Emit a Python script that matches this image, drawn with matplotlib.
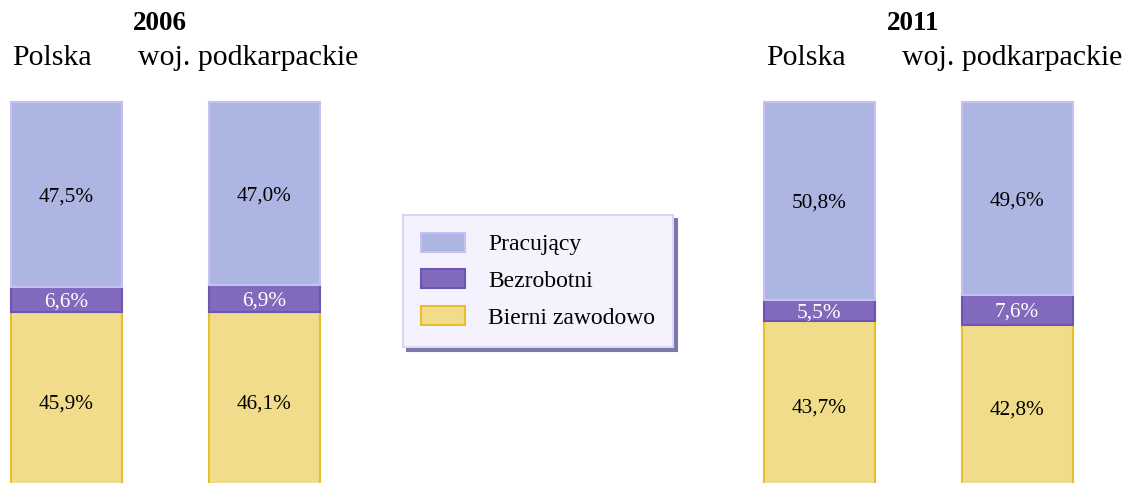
import numpy as np
import matplotlib
matplotlib.use("Agg")
import matplotlib.pyplot as plt
from matplotlib.patches import Patch

plt.rcParams['font.family'] = ['Liberation Serif', 'DejaVu Serif']

lata = ["2006", "2011"]
regiony = ["Polska", "woj. podkarpackie"]
kategorie = ["Pracujący", "Bezrobotni", "Bierni zawodowo"]

# kolejnosc slupkow: 2006 Polska, 2006 podkarpackie, 2011 Polska, 2011 podkarpackie
pracujacy = [47.5, 47.0, 50.8, 49.6]
bezrobotni = [6.6, 6.9, 5.5, 7.6]
bierni = [45.9, 46.1, 43.7, 42.8]

kolory = ["#adb5e3", "#8169bd", "#f0dc8a"]
krawedzie = ["#c6c0f4", "#6c55b3", "#e6c02c"]
kolory_tekstu = ["black", "white", "black"]

# uklad (piksele)
W, H = 1130, 483
x_slupki = [66.5, 264, 819, 1017]
szer = 111
px_na_proc = 3.89
gora_px = 102

fig = plt.figure(figsize=(W / 100, H / 100), dpi=100)
ax = fig.add_axes([0, 0, 1, 1])
ax.set_xlim(0, W)
# 100% na pikselu gora_px, 0% ponizej dolnej krawedzi rysunku
y_max = 100 + gora_px / px_na_proc
y_min = y_max - H / px_na_proc
ax.set_ylim(y_min, y_max)
ax.axis("off")

serie = [bierni, bezrobotni, pracujacy]
kol = [kolory[2], kolory[1], kolory[0]]
kraw = [krawedzie[2], krawedzie[1], krawedzie[0]]
tk = [kolory_tekstu[2], kolory_tekstu[1], kolory_tekstu[0]]

dol = np.zeros(len(x_slupki))
for wart, c, e, t in zip(serie, kol, kraw, tk):
    wart = np.array(wart)
    ax.bar(x_slupki, wart, width=szer, bottom=dol, color=c, edgecolor=e, linewidth=1.5)
    for x, b, v in zip(x_slupki, dol, wart):
        ax.text(x, b + v / 2, f"{v:.1f}%".replace(".", ","), ha="center", va="center_baseline",
                fontsize=15.3, color=t)
    dol += wart

# naglowki
def ftext(x, y, s, **kw):
    fig.text(x / W, 1 - y / H, s, ha="center", va="center", **kw)

ftext(160, 24, lata[0], fontsize=19.5, fontweight="bold")
ftext(913, 24, lata[1], fontsize=19.5, fontweight="bold")
for cx in [(52, 248), (806, 1012)]:
    ftext(cx[0], 58, regiony[0], fontsize=21.5)
    ftext(cx[1], 58, regiony[1], fontsize=21.5)

uchwyty = [Patch(facecolor=kolory[i], edgecolor=krawedzie[i], linewidth=1.5) for i in range(3)]
leg = ax.legend(uchwyty, kategorie, loc="upper left",
                bbox_to_anchor=(403 / W, 1 - 215 / H), bbox_transform=fig.transFigure,
                fontsize=17, frameon=True, fancybox=False,
                shadow={"color": "#7a78aa", "alpha": 1.0, "ox": 3, "oy": -3},
                handlelength=1.86, handleheight=0.85, handletextpad=1.0,
                labelspacing=0.6, borderpad=0.75, borderaxespad=0)
fr = leg.get_frame()
fr.set_facecolor("#f4f3fd")
fr.set_edgecolor("#d8d8f6")
fr.set_linewidth(1.5)
fr.set_alpha(1)

plt.savefig("out.png", dpi=100)
